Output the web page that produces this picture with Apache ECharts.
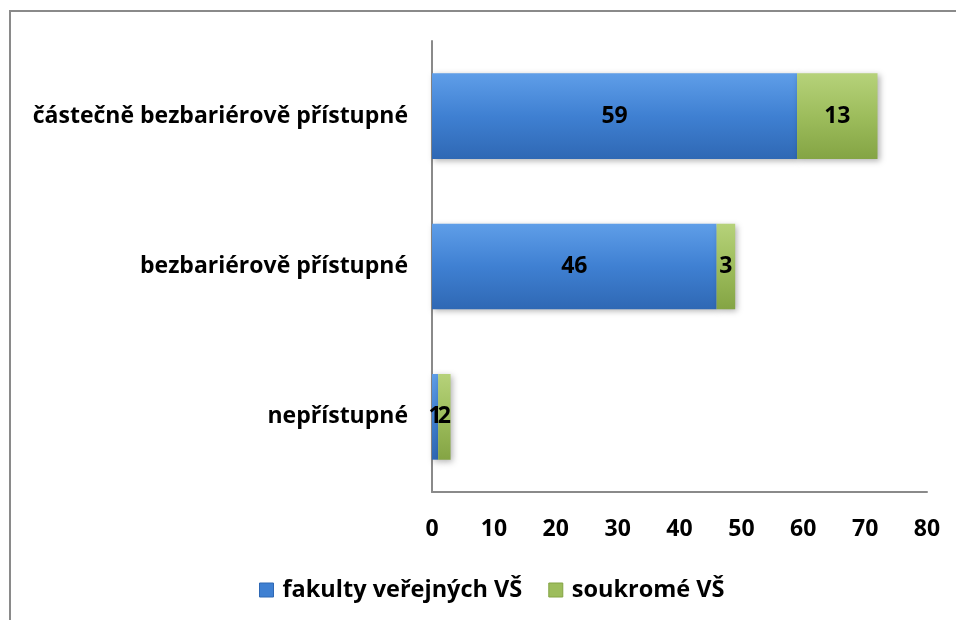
<!DOCTYPE html>
<html><head><meta charset="utf-8">
<script src="https://cdn.jsdelivr.net/npm/echarts@6/dist/echarts.min.js"></script>
<style>html,body{margin:0;padding:0;background:#fff}#c{width:956px;height:620px}</style>
</head><body><div id="c"></div>
<script>
const categories = ['nepřístupné', 'bezbariérově přístupné', 'částečně bezbariérově přístupné'];
const seriesNames = ['fakulty veřejných VŠ', 'soukromé VŠ'];
const publicValues = [1, 46, 59];
const privateValues = [2, 3, 13];
const xTicks = [0, 10, 20, 30, 40, 50, 60, 70, 80];

const FONT = '"Open Sans", "DejaVu Sans", sans-serif';
const chart = echarts.init(document.getElementById('c'), null, {renderer: 'canvas'});
function grad(c1, c2, c3) {
  return new echarts.graphic.LinearGradient(0, 0, 0, 1, [
    {offset: 0, color: c1}, {offset: 0.5, color: c2}, {offset: 1, color: c3}
  ]);
}
const blue = grad('#5f9ee8', '#3f80d2', '#2f68b4');
const green = grad('#b6d27a', '#9dbd5c', '#84a444');
chart.setOption({
  animation: false,
  backgroundColor: '#fff',
  graphic: [{
    type: 'rect', shape: {x: 10, y: 11, width: 1000, height: 700},
    style: {fill: 'none', stroke: '#8a8a8a', lineWidth: 2}, silent: true
  }],
  grid: {left: 432, right: 29, top: 41, bottom: 128, containLabel: false},
  legend: {
    bottom: 13, left: 254, itemWidth: 14, itemHeight: 14, itemGap: 26, icon: 'rect',
    textStyle: {fontFamily: FONT, fontWeight: 'bold', fontSize: 23.5, color: '#000', padding: [0, 0, 0, 4]},
    data: [
      {name: seriesNames[0], itemStyle: {color: '#3f80d2', borderColor: '#2f68b4', borderWidth: 1}},
      {name: seriesNames[1], itemStyle: {color: '#9dbd5c', borderColor: '#84a444', borderWidth: 1}}
    ]
  },
  xAxis: {
    type: 'value', min: 0, max: 80, interval: 10,
    axisLine: {show: true, lineStyle: {color: '#8a8a8a', width: 2}},
    axisTick: {show: false}, splitLine: {show: false},
    axisLabel: {
      margin: 26, fontFamily: FONT, fontWeight: 'bold', fontSize: 23, color: '#000',
      formatter: v => xTicks.includes(v) ? String(v) : ''
    }
  },
  yAxis: {
    type: 'category', data: categories,
    axisLine: {show: true, lineStyle: {color: '#8a8a8a', width: 2}},
    axisTick: {show: false},
    axisLabel: {margin: 24, fontFamily: FONT, fontWeight: 'bold', fontSize: 23, color: '#000'}
  },
  series: [
    {
      name: seriesNames[0], type: 'bar', stack: 's', data: publicValues, barWidth: '57%',
      itemStyle: {color: blue, shadowColor: 'rgba(0,0,0,0.3)', shadowBlur: 6, shadowOffsetX: 2, shadowOffsetY: 2},
      label: {show: true, position: 'inside', fontFamily: FONT, fontWeight: 'bold', fontSize: 23, color: '#000'}
    },
    {
      name: seriesNames[1], type: 'bar', stack: 's', data: privateValues, barWidth: '57%',
      itemStyle: {color: green, shadowColor: 'rgba(0,0,0,0.3)', shadowBlur: 6, shadowOffsetX: 2, shadowOffsetY: 2},
      label: {show: true, position: 'inside', fontFamily: FONT, fontWeight: 'bold', fontSize: 23, color: '#000'}
    }
  ]
});
</script></body></html>
